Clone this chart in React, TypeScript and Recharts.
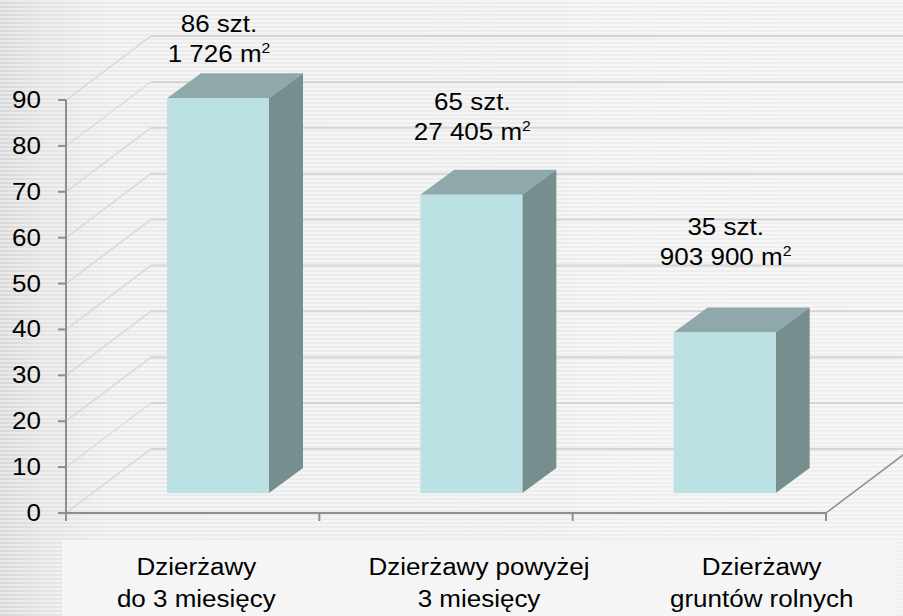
import { BarChart, Bar, XAxis, YAxis, CartesianGrid, LabelList } from "recharts"

// category labels (two lines each), counts in pieces, areas in m2
const categories = [
  ["Dzierżawy", "do 3 miesięcy"],
  ["Dzierżawy powyżej", "3 miesięcy"],
  ["Dzierżawy", "gruntów rolnych"],
]
const counts = [86, 65, 35]
const areas = ["1 726", "27 405", "903 900"]
const yTicks = [0, 10, 20, 30, 40, 50, 60, 70, 80, 90]

const data = categories.map((c, i) => ({ name: c.join(" "), count: counts[i], area: areas[i] }))

const W = 903
const H = 616
const FONT = '"Liberation Sans", Arial, sans-serif'
const STRETCH = 1.13 // the original text is a bit wide
const AXIS = "#8e8e8e"
const GRID = "#d5d5d5"
const FRONT_C = "#bce1e4"
const TOP_C = "#8fa9ab"
const SIDE_C = "#778e8e"

const WALL = { dx: 85, dy: -64 } // depth of the floor / back wall
const FRONT = { dx: 25, dy: -20 } // bar front face sits a bit inside
const SIDE = { dx: 34, dy: -25 } // bar depth
const LABEL_RAISE = [36, 55, 67]
const LABEL_AREA = { left: 55, right: 903 }

function Txt({ x, y, anchor = "middle", size = 23, children }: any) {
  return (
    <text
      transform={`translate(${x} ${y}) scale(${STRETCH} 1)`}
      textAnchor={anchor}
      fontSize={size}
      fontFamily={FONT}
      fill="#000"
    >
      {children}
    </text>
  )
}

const backLine = (p: any) => {
  const { x1, y1, x2, index } = p
  const bx = x1 + WALL.dx
  const by = y1 + WALL.dy
  const pts: number[] | undefined = p.horizontalPoints
  const isFloor = pts && pts.length ? y1 === Math.max(...pts) : index === 0
  return (
    <g key={`back-${index}`}>
      <line x1={x1} y1={y1} x2={bx} y2={by} stroke={GRID} strokeWidth={1.2} />
      <line x1={bx} y1={by} x2={W} y2={by} stroke={GRID} strokeWidth={2} />
      {isFloor && (
        <line x1={x2} y1={y1} x2={x2 + WALL.dx} y2={y1 + WALL.dy} stroke={AXIS} strokeWidth={1.5} />
      )}
    </g>
  )
}

const Bar3D = (p: any) => {
  const { x, y, width, height } = p
  if (!height) return <g />
  const fx = x + FRONT.dx
  const fy = y + FRONT.dy
  const { dx, dy } = SIDE
  return (
    <g>
      <polygon
        points={`${fx},${fy} ${fx + width},${fy} ${fx + width + dx},${fy + dy} ${fx + dx},${fy + dy}`}
        fill={TOP_C}
      />
      <polygon
        points={`${fx + width},${fy} ${fx + width + dx},${fy + dy} ${fx + width + dx},${fy + height + dy} ${fx + width},${fy + height}`}
        fill={SIDE_C}
      />
      <rect x={fx} y={fy} width={width} height={height} fill={FRONT_C} />
    </g>
  )
}

const BarLabel = (p: any) => {
  const { x, y, width, index, value } = p
  const cx = x + FRONT.dx + width / 2 + 1
  const base2 = y + FRONT.dy - LABEL_RAISE[index]
  return (
    <g>
      <Txt x={cx} y={base2 - 30}>{`${value} szt.`}</Txt>
      <Txt x={cx} y={base2}>
        {`${areas[index]} m`}
        <tspan fontSize={14} dy={-9}>2</tspan>
      </Txt>
    </g>
  )
}

const YTick = (p: any) => (
  <Txt x={p.x} y={p.y + 8} anchor="end">{p.payload.value}</Txt>
)

const XTick = (p: any) => {
  const { x, y, payload, index, visibleTicksCount } = p
  const n = visibleTicksCount || categories.length
  const half = payload.offset || (p.width || 760) / (2 * n)
  const band = (LABEL_AREA.right - LABEL_AREA.left) / n
  const lx = LABEL_AREA.left + (index + 0.5) * band
  const lines = categories[index] || [String(payload.value)]
  return (
    <g>
      <line x1={x - half} y1={y} x2={x - half} y2={y + 8} stroke={AXIS} strokeWidth={2} />
      {index === n - 1 && (
        <line x1={x + half} y1={y} x2={x + half} y2={y + 8} stroke={AXIS} strokeWidth={2} />
      )}
      <Txt x={lx} y={575}>{lines[0]}</Txt>
      <Txt x={lx} y={607}>{lines[1]}</Txt>
    </g>
  )
}

export default function App() {
  return (
    <div
      style={{
        position: "absolute",
        left: 0,
        top: 0,
        width: W,
        height: H,
        overflow: "hidden",
        background:
          "repeating-linear-gradient(to bottom, rgba(255,255,255,0.35) 0px, rgba(255,255,255,0.35) 2px, rgba(0,0,0,0.012) 2px, rgba(0,0,0,0.012) 4px), linear-gradient(to right, #dcdcdc 0px, #e6e6e6 45px, #eeeeee 110px, #f2f2f2 100%)",
      }}
    >
      <div
        style={{ position: "absolute", left: 62, top: 540, width: 836, height: 76, background: "#f5f5f5" }}
      />
      <div style={{ position: "absolute", left: 0, top: 0 }}>
        <BarChart
          width={W}
          height={H}
          data={data}
          margin={{ top: 100, right: 77, bottom: 0, left: 0 }}
          barSize={102}
        >
          <CartesianGrid horizontal={backLine} vertical={false} />
          <YAxis
            type="number"
            domain={[0, 90]}
            ticks={yTicks}
            width={66}
            axisLine={{ stroke: AXIS, strokeWidth: 2 }}
            tickLine={{ stroke: AXIS, strokeWidth: 2 }}
            tickSize={8}
            tickMargin={17}
            tick={YTick}
            interval={0}
          />
          <XAxis
            dataKey="name"
            height={103}
            axisLine={{ stroke: AXIS, strokeWidth: 2 }}
            tickLine={false}
            tickSize={0}
            tickMargin={0}
            tick={XTick}
            interval={0}
          />
          <Bar dataKey="count" shape={Bar3D} isAnimationActive={false}>
            <LabelList dataKey="count" content={BarLabel} />
          </Bar>
        </BarChart>
      </div>
    </div>
  )
}
